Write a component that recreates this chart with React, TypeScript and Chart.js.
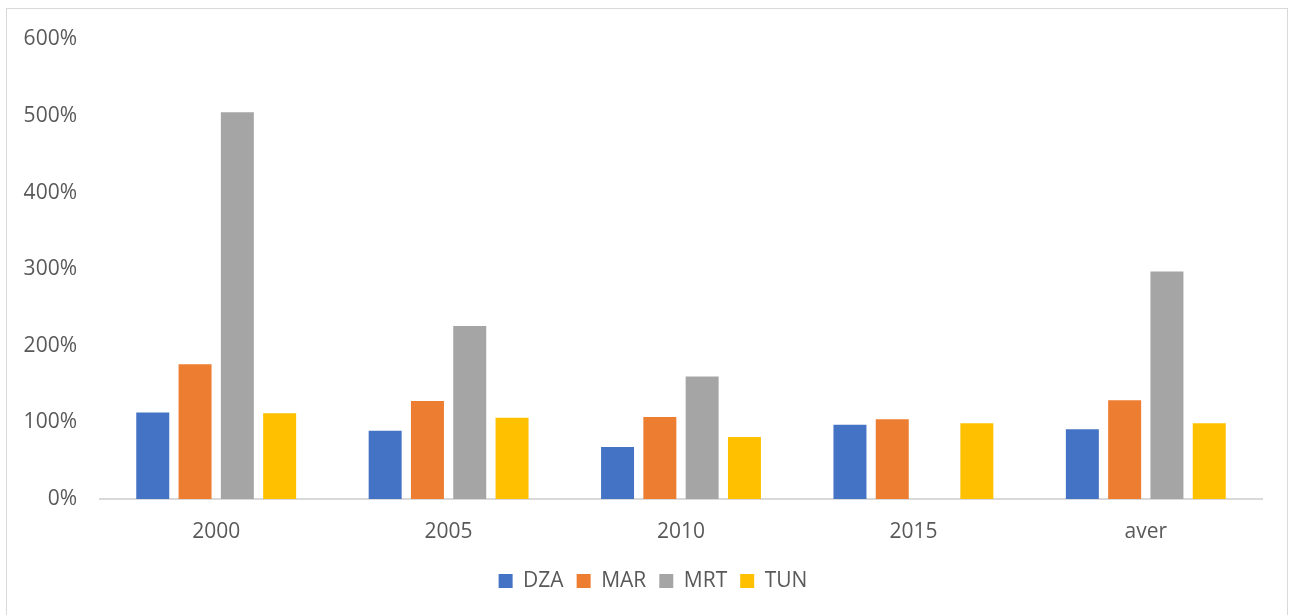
import React, { useEffect, useRef } from "react";
import { Chart, registerables } from "chart.js";

Chart.register(...registerables);

const categories = ["2000", "2005", "2010", "2015", "aver"];
const dza = [113, 89, 68, 97, 91];
const mar = [176, 128, 107, 104, 129];
const mrt = [505, 226, 160, null, 297];
const tun = [112, 106, 81, 99, 99];
const yTicks = [0, 100, 200, 300, 400, 500, 600];

const FONT = "'Open Sans', 'Noto Sans', sans-serif";
const TEXT = "#595959";

const legendShift = {
  id: "legendShift",
  afterLayout(chart: any) {
    if (chart.legend) chart.legend.left = 37;
  },
};

export default function App() {
  const ref = useRef<HTMLCanvasElement | null>(null);

  useEffect(() => {
    if (!ref.current) return;
    const chart = new Chart(ref.current, {
      type: "bar",
      data: {
        labels: categories,
        datasets: [
          { label: "DZA", data: dza, backgroundColor: "#4472C4" },
          { label: "MAR", data: mar, backgroundColor: "#ED7D31" },
          { label: "MRT", data: mrt, backgroundColor: "#A5A5A5" },
          { label: "TUN", data: tun, backgroundColor: "#FFC000" },
        ],
      },
      plugins: [legendShift],
      options: {
        animation: false,
        responsive: false,
        maintainAspectRatio: false,
        datasets: {
          bar: { categoryPercentage: 0.728, barPercentage: 0.78 },
        },
        layout: { padding: { top: 30.5, right: 25, bottom: 13.5, left: 0 } },
        plugins: {
          tooltip: { enabled: false },
          legend: {
            position: "bottom",
            labels: {
              boxWidth: 14,
              boxHeight: 14,
              padding: 13,
              color: TEXT,
              font: { family: FONT, size: 21 },
            },
          },
        },
        scales: {
          x: {
            grid: { display: false, drawTicks: false },
            border: { display: true, color: "#d9d9d9", width: 2 },
            ticks: { color: TEXT, font: { family: FONT, size: 21 }, padding: 20.5 },
            afterFit: (s: any) => {
              s.height = 58.5;
            },
          },
          y: {
            min: 0,
            max: 600,
            afterBuildTicks: (s: any) => {
              s.ticks = yTicks.map((v) => ({ value: v }));
            },
            grid: { display: false, drawTicks: false },
            border: { display: false },
            ticks: {
              color: TEXT,
              font: { family: FONT, size: 21 },
              padding: 23,
              callback: (v: any) => v + "%",
            },
            afterFit: (s: any) => {
              s.width = 93;
              s.paddingTop = 0;
              s.paddingBottom = 0;
            },
          },
        },
      },
    });
    return () => chart.destroy();
  }, []);

  return (
    <div
      style={{
        position: "absolute",
        left: 6,
        top: 8,
        width: 1280,
        height: 606,
        borderTop: "1px solid #d9d9d9",
        borderLeft: "1px solid #d9d9d9",
        borderRight: "1px solid #d9d9d9",
        background: "#fff",
      }}
    >
      <canvas ref={ref} width={1280} height={606} style={{ display: "block" }} />
    </div>
  );
}
